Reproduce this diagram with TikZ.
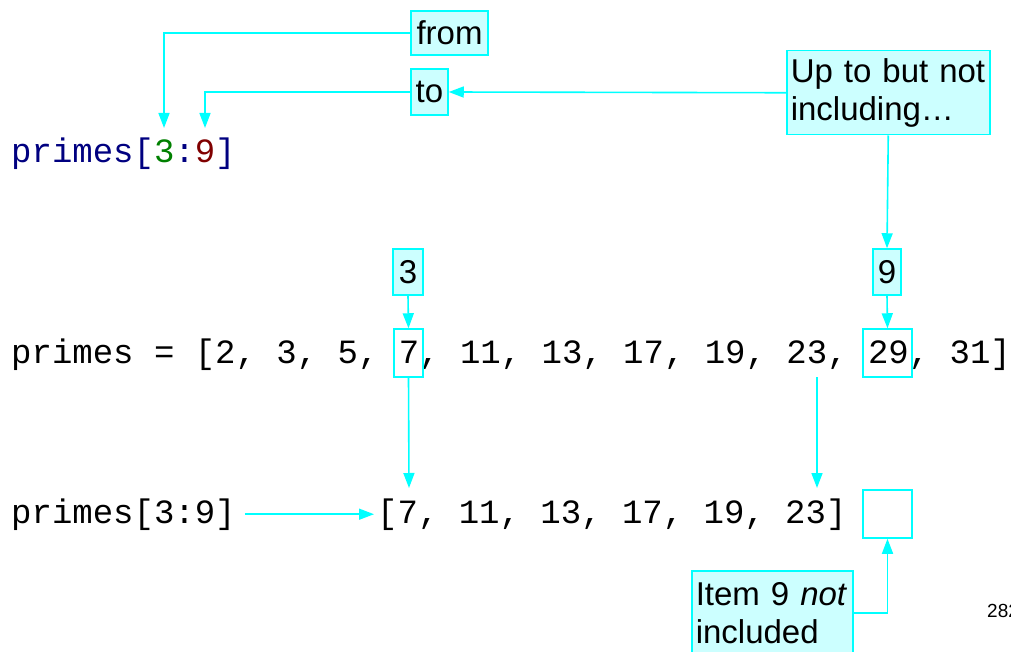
\documentclass[tikz,border=0pt]{standalone}
\usepackage{fontspec}
\setmainfont{Liberation Sans}
\setmonofont{Liberation Mono}
\usetikzlibrary{arrows.meta,positioning}
\definecolor{cyanline}{HTML}{00FFFF}
\definecolor{cyanfill}{HTML}{CCFFFF}
\definecolor{codeblue}{HTML}{000080}
\definecolor{codegreen}{HTML}{008000}
\definecolor{codered}{HTML}{800000}
\begin{document}
\begin{tikzpicture}[x=1pt,y=-1pt,
				code/.style={inner sep=0pt, anchor=base west,
					font=\ttfamily\fontsize{34}{40}\selectfont},
				note/.style={rectangle, draw=cyanline, fill=cyanfill, line width=1.5pt,
					inner sep=0pt, font=\fontsize{33}{38}\selectfont},
				frame/.style={rectangle, draw=cyanline, line width=1.5pt, inner sep=0pt},
				link/.style={draw=cyanline, line width=1.6pt,
					-{Triangle[length=15pt,width=11pt]}}
				]
				\useasboundingbox (0,0) rectangle (1011,652);
				
				% notes at the top
				\node[note, minimum width=77pt, minimum height=44pt] (from) at (449.5,33) {from};
				\node[note, minimum width=37pt, minimum height=46pt] (to) at (429.5,92) {to};
				\node[note, anchor=north west, text width=195pt, inner xsep=4pt,
					minimum height=84pt, align=left] (upto) at (786,50) {Up to but not\\including…};
				
				% the slice expression
				\node[code] (expr) at (11,163) {\color{codeblue}primes[\textcolor{codegreen}{3}:\textcolor{codered}{9}]};
				\coordinate (fromtip) at (164,128);
				\coordinate (totip) at (205,128);
				
				% index labels and the list
				\node[note, minimum width=30pt, minimum height=46pt] (three) at (408,272) {3};
				\node[note, minimum width=28pt, minimum height=46pt] (nine) at (887,272) {9};
				\node[code] (list) at (11,363) {primes = [2, 3, 5, 7, 11, 13, 17, 19, 23, 29, 31]};
				\node[frame, minimum width=29pt, minimum height=48pt] (sevenbox) at (408.5,353) {};
				\node[frame, minimum width=49pt, minimum height=48pt] (tnbox) at (887.5,353) {};
				\coordinate (twentythree) at (817,377);
				
				% the result
				\node[code] (slice) at (11,523) {primes[3:9]};
				\node[code] (result) at (377,523) {[7, 11, 13, 17, 19, 23]};
				\node[frame, minimum width=49pt, minimum height=48pt] (emptybox) at (887.5,514) {};
				\coordinate (seventip) at (409,488);
				\coordinate (endtip) at (817,488);
				\node[note, anchor=north west, text width=153pt, inner xsep=4pt,
					minimum height=84pt, align=left] (item) at (691,570) {Item 9 \textit{not}\\included};
				
				\node[anchor=base west, inner sep=0pt, font=\fontsize{19}{22}\selectfont] (page) at (987,617) {282};
				
				\draw[link] (from.west) -| (fromtip);
				\draw[link] (to.west) -| (totip);
				\draw[link] (upto.west) -- (to.east);
				\draw[link] (upto.south) -- (nine.north);
				\draw[link] (three.south) -- (sevenbox.north);
				\draw[link] (nine.south) -- (tnbox.north);
				\draw[link] (sevenbox.south) -- (seventip);
				\draw[link] (twentythree) -- (endtip);
				\draw[link, shorten <=9pt, shorten >=3pt] (slice.east) -- (result.west);
				\draw[link] (item.east) -| (emptybox.south);
		\end{tikzpicture}
\end{document}
